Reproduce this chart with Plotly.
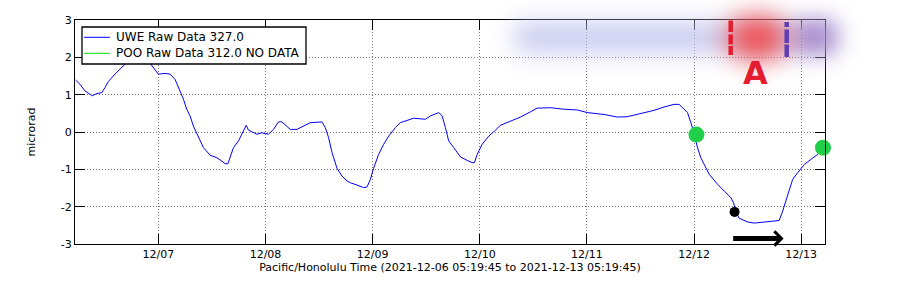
import base64, struct, zlib
import numpy as np
import pandas as pd
import plotly.graph_objects as go

# ---------------- data ----------------
start = pd.Timestamp("2021-12-06 00:00:00")
uwe_days = [0.228, 0.268, 0.315, 0.346, 0.383, 0.424, 0.471, 0.502, 0.533, 0.595,
            0.658, 0.705, 0.798, 0.860, 0.907, 0.953, 1.000, 1.063, 1.109, 1.156,
            1.203, 1.234, 1.265, 1.296, 1.327, 1.374, 1.421, 1.483, 1.546, 1.593,
            1.623, 1.649, 1.670, 1.701, 1.748, 1.789, 1.820, 1.841, 1.920, 1.966,
            2.028, 2.075, 2.121, 2.153, 2.231, 2.293, 2.371, 2.418, 2.527, 2.558,
            2.589, 2.621, 2.667, 2.714, 2.761, 2.792, 2.854, 2.916, 2.948, 2.979,
            3.009, 3.056, 3.103, 3.150, 3.212, 3.259, 3.321, 3.383, 3.493, 3.539,
            3.617, 3.649, 3.679, 3.710, 3.757, 3.820, 3.882, 3.929, 3.950, 3.976,
            4.022, 4.084, 4.147, 4.193, 4.287, 4.380, 4.473, 4.536, 4.661, 4.785,
            4.910, 5.004, 5.159, 5.284, 5.377, 5.502, 5.626, 5.720, 5.813, 5.860,
            5.892, 5.939, 5.970, 6.000, 6.030, 6.063, 6.141, 6.219, 6.281, 6.344,
            6.369, 6.390, 6.421, 6.500, 6.561, 6.655, 6.733, 6.795, 6.827, 6.873,
            6.920, 6.967, 7.029, 7.092, 7.154, 7.201]
uwe_values = [1.39, 1.28, 1.10, 1.05, 0.97, 1.03, 1.05, 1.19, 1.35, 1.55,
              1.73, 1.86, 1.95, 1.98, 1.90, 1.72, 1.55, 1.57, 1.55, 1.41,
              1.10, 0.88, 0.61, 0.43, 0.16, -0.15, -0.42, -0.62, -0.69, -0.78,
              -0.85, -0.85, -0.69, -0.42, -0.24, -0.02, 0.18, 0.05, -0.06, -0.02,
              -0.06, 0.07, 0.27, 0.27, 0.07, 0.07, 0.19, 0.25, 0.27, 0.12,
              -0.15, -0.55, -0.97, -1.18, -1.31, -1.36, -1.42, -1.49, -1.47, -1.27,
              -0.97, -0.60, -0.33, -0.11, 0.12, 0.25, 0.31, 0.37, 0.34, 0.43,
              0.52, 0.43, 0.12, -0.24, -0.42, -0.67, -0.76, -0.82, -0.82, -0.60,
              -0.33, -0.11, 0.05, 0.18, 0.29, 0.40, 0.54, 0.64, 0.65, 0.61,
              0.59, 0.52, 0.47, 0.40, 0.41, 0.49, 0.58, 0.67, 0.74, 0.74,
              0.65, 0.52, 0.25, -0.02, -0.40, -0.69, -1.13, -1.40, -1.58, -1.76,
              -1.90, -2.14, -2.31, -2.41, -2.44, -2.41, -2.40, -2.37, -2.12, -1.67,
              -1.27, -1.09, -0.87, -0.73, -0.60, -0.45]

poo_days = [None]       # NO DATA
poo_values = [None]

green_days = [6.022, 7.203]
green_values = [-0.07, -0.42]
black_days = [6.378]
black_values = [-2.14]
arrow_days = [6.351, 6.836]
arrow_value = -2.85

series_names = ["UWE Raw Data 327.0", "POO Raw Data 312.0 NO DATA"]
series_colors = ["#0000ff", "#00e000"]
y_ticks = [3, 2, 1, 0, -1, -2, -3]
y_tick_text = ["3", "2", "1", "0", "-1", "-2", "-3"]
x_ticks = ["2021-12-07", "2021-12-08", "2021-12-09", "2021-12-10",
           "2021-12-11", "2021-12-12", "2021-12-13"]
x_tick_text = ["12/07", "12/08", "12/09", "12/10", "12/11", "12/12", "12/13"]
x_range = ["2021-12-06 05:19:45", "2021-12-13 05:19:45"]
x_title = "Pacific/Honolulu Time (2021-12-06 05:19:45 to 2021-12-13 05:19:45)"
y_title = "microrad"


def to_time(days):
    return start + pd.to_timedelta(np.array(days, dtype=float), unit="D")


# ---------------- blurred overlay (decoration) ----------------
L, T, PW, PH = 75, 20, 750, 224          # plot area in px
X0, Y0, W, H = 450, 0, 440, 110          # overlay image box in px
yy, xx = np.mgrid[0:H, 0:W].astype(float)
xx += X0 + 0.5
yy += Y0 + 0.5


def gblur(m, s):
    r = int(3 * s)
    k = np.exp(-np.arange(-r, r + 1) ** 2 / (2.0 * s * s))
    k /= k.sum()
    m = np.apply_along_axis(lambda v: np.convolve(v, k, mode="same"), 0, m)
    m = np.apply_along_axis(lambda v: np.convolve(v, k, mode="same"), 1, m)
    return m


layers = [
    # (mask, sigma, strength, rgb)
    (((xx > 515) & (xx < 835) & (yy > 23) & (yy < 52)).astype(float), 12, 0.85, (190, 193, 236)),
    (((xx > 795) & (xx < 835) & (yy > 22) & (yy < 52)).astype(float), 11, 0.8, (155, 115, 192)),
    ((((xx - 757) / 30) ** 2 + ((yy - 38) / 22) ** 2 < 1).astype(float), 13, 0.95, (242, 70, 70)),
]
A = np.zeros((H, W))
C = np.zeros((H, W, 3))
for mask, sig, strength, rgb in layers:
    a = np.clip(gblur(mask, sig) * strength, 0, 1)
    na = a + A * (1 - a)
    col = np.array(rgb, float)[None, None, :]
    C = np.where(na[..., None] > 0,
                 (col * a[..., None] + C * (A * (1 - a))[..., None]) / np.maximum(na, 1e-9)[..., None],
                 0)
    A = na
rgba = np.dstack([C, A * 255]).clip(0, 255).astype(np.uint8)


def png_bytes(arr):
    h, w = arr.shape[:2]
    raw = b"".join(b"\x00" + arr[i].tobytes() for i in range(h))

    def chunk(t, d):
        return struct.pack(">I", len(d)) + t + d + struct.pack(">I", zlib.crc32(t + d) & 0xffffffff)
    return (b"\x89PNG\r\n\x1a\n" + chunk(b"IHDR", struct.pack(">IIBBBBB", w, h, 8, 6, 0, 0, 0))
            + chunk(b"IDAT", zlib.compress(raw, 9)) + chunk(b"IEND", b""))


overlay_uri = "data:image/png;base64," + base64.b64encode(png_bytes(rgba)).decode()


def px(x):
    return (x - L) / PW


def py(y):
    return (T + PH - y) / PH


# ---------------- figure ----------------
FONT = "DejaVu Sans"
fig = go.Figure()
fig.add_trace(go.Scatter(x=to_time(uwe_days), y=uwe_values, mode="lines",
                         name=series_names[0], showlegend=False,
                         line=dict(color=series_colors[0], width=1)))
fig.add_trace(go.Scatter(x=poo_days, y=poo_values, mode="lines", name=series_names[1],
                         showlegend=False, line=dict(color=series_colors[1], width=1)))
fig.add_trace(go.Scatter(x=to_time(green_days), y=green_values, mode="markers",
                         showlegend=False, cliponaxis=False,
                         marker=dict(color="#1fd048", size=16, line=dict(width=0))))
fig.add_trace(go.Scatter(x=to_time(black_days), y=black_values, mode="markers",
                         showlegend=False, cliponaxis=False,
                         marker=dict(color="black", size=10, line=dict(width=0))))

arrow_t = to_time(arrow_days)
fig.add_annotation(x=arrow_t[1], y=arrow_value, ax=arrow_t[0], ay=arrow_value,
                   xref="x", yref="y", axref="x", ayref="y", text="",
                   showarrow=True, arrowhead=4, arrowsize=0.55, arrowwidth=5,
                   arrowcolor="black")

# legend box (drawn by hand to match the original's compact layout)
fig.add_shape(type="rect", xref="paper", yref="paper", x0=px(82), x1=px(306),
              y0=py(27), y1=py(64), fillcolor="white", line=dict(color="black", width=1.3),
              layer="above")
for i, (name, col) in enumerate(zip(series_names, series_colors)):
    yrow = 37.3 + 16 * i
    fig.add_shape(type="line", xref="paper", yref="paper", x0=px(84), x1=px(110),
                  y0=py(yrow), y1=py(yrow), line=dict(color=col, width=1), layer="above")
    fig.add_annotation(x=px(114), y=py(yrow), xref="paper", yref="paper", text=name,
                       showarrow=False, xanchor="left", yanchor="middle",
                       font=dict(family=FONT, size=12, color="black"))

# hand-drawn marks near the top
red = "rgb(228,28,48)"
purple = "rgb(95,62,178)"
for y1, y2 in [(20.5, 32), (34.5, 44.5), (46, 55)]:
    fig.add_shape(type="line", xref="paper", yref="paper", x0=px(730.7), x1=px(730.7),
                  y0=py(y1), y1=py(y2), line=dict(color=red, width=4.5), layer="above")
for y1, y2 in [(22, 27), (29.5, 43), (44.5, 57)]:
    fig.add_shape(type="line", xref="paper", yref="paper", x0=px(786.7), x1=px(786.7),
                  y0=py(y1), y1=py(y2), line=dict(color=purple, width=4.5), layer="above")
fig.add_annotation(x=px(755), y=py(73), xref="paper", yref="paper", text="<b>A</b>",
                   showarrow=False, font=dict(family=FONT, size=32, color=red),
                   xanchor="center", yanchor="middle")

fig.add_layout_image(dict(source=overlay_uri, xref="paper", yref="paper",
                          x=px(X0), y=py(Y0), sizex=W / PW, sizey=H / PH,
                          xanchor="left", yanchor="top", sizing="stretch",
                          layer="above", opacity=1))

axis_common = dict(showline=True, linecolor="black", linewidth=1, mirror="allticks",
                   ticks="inside", ticklen=10, tickwidth=1, tickcolor="black",
                   showgrid=True, gridcolor="#7a7a7a", griddash="1px,2px", gridwidth=1,
                   zeroline=False, tickfont=dict(family=FONT, size=11, color="black"))

fig.update_xaxes(type="date", range=x_range, tickvals=x_ticks, ticktext=x_tick_text,
                 title=dict(text=x_title, font=dict(family=FONT, size=11, color="black"),
                            standoff=2),
                 **axis_common)
fig.update_yaxes(range=[-3, 3], tickvals=y_ticks, ticktext=y_tick_text,
                 title=dict(text=y_title, font=dict(family=FONT, size=11, color="black"),
                            standoff=22),
                 **axis_common)

fig.update_layout(
    width=900, height=300,
    margin=dict(l=L, r=900 - L - PW, t=T, b=300 - T - PH, autoexpand=False),
    paper_bgcolor="white", plot_bgcolor="white",
    font=dict(family=FONT, size=11, color="black"),
    showlegend=False,
)

fig.write_html("out.html")
